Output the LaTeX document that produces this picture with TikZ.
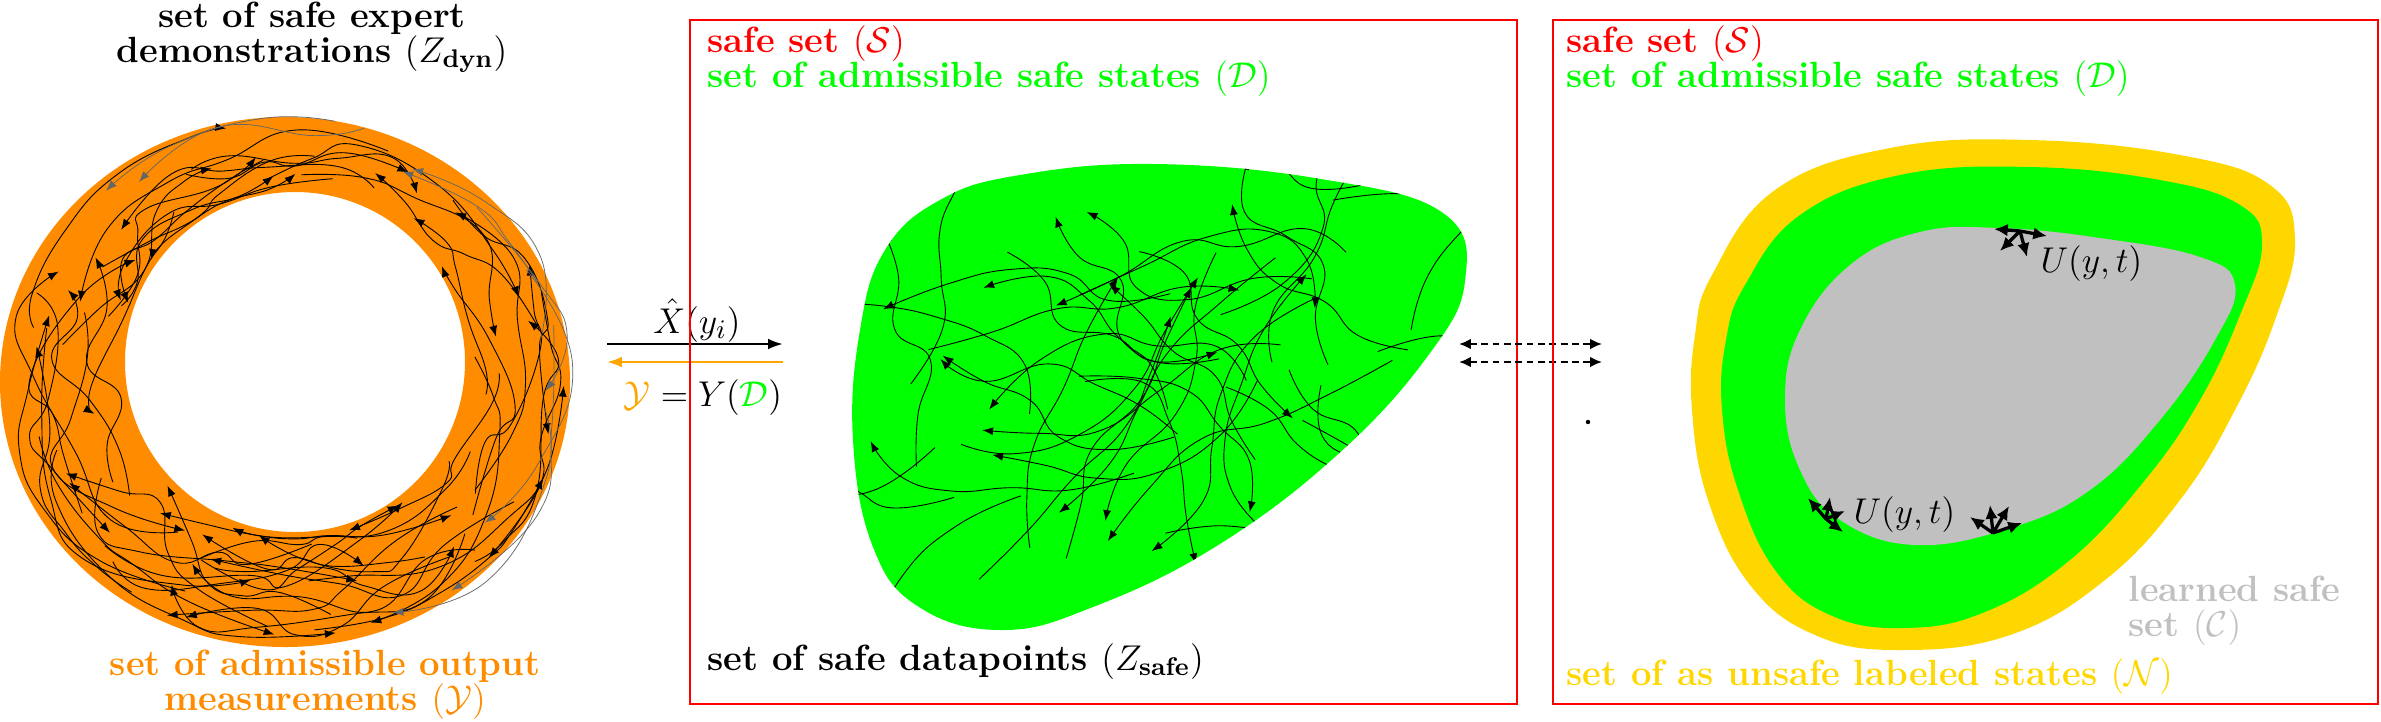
\documentclass[tikz,border=0pt]{standalone}
\usepackage{amsmath}
\usetikzlibrary{arrows.meta}
\definecolor{ringor}{RGB}{255,140,0}
\definecolor{arror}{RGB}{255,165,0}
\definecolor{sgreen}{RGB}{0,255,0}
\definecolor{sred}{RGB}{255,0,0}
\definecolor{sgold}{RGB}{255,215,0}
\definecolor{sgray}{RGB}{192,192,192}
\newcommand{\setrp}[4]{%
  \pgfmathsetmacro#1{(1-(#4))*(295+170*cos(#3))+(#4)*(285+285*cos(#3))}%
  \pgfmathsetmacro#2{(1-(#4))*(362+170*sin(#3))+(#4)*(382+265*sin(#3))}}
\newcommand{\setbp}[4]{%
  \pgfmathsetmacro#1{1160+360*(#3)*0.819+230*(#4)*0.574}%
  \pgfmathsetmacro#2{380-360*(#3)*0.574+230*(#4)*0.819}}
\begin{document}
\begin{tikzpicture}[x=0.335pt,y=-0.335pt,
  lbl/.style={inner sep=0pt, font=\fontsize{12.2}{14.6}\selectfont\bfseries},
  box/.style={draw=sred, line width=0.8pt},
  traj/.style={line width=0.3pt, -{Latex[length=3.6pt,width=2.7pt]}},
  gtraj/.style={line width=0.25pt, draw=black!60, -{Latex[length=3.6pt,width=2.7pt]}},
  bigarr/.style={line width=0.8pt, -{Latex[length=5pt,width=3.6pt]}},
  dsh/.style={line width=0.7pt, dash pattern=on 2.3pt off 1.5pt, {Latex[length=4pt,width=3.6pt]}-{Latex[length=4pt,width=3.6pt]}},
  starr/.style={line width=1.1pt, -{Latex[length=4.6pt,width=4.2pt]}}]
\useasboundingbox (0,0) rectangle (2381,721);

% ---------- ring ----------
\fill[ringor, even odd rule] (285,382) ellipse [x radius=285, y radius=265]
  (295,362) ellipse [x radius=170, y radius=170];
\pgfmathsetseed{31}
\foreach \k in {1,...,56}{
  \pgfmathsetmacro{\aA}{rnd*360}
  \pgfmathsetmacro{\sg}{ifthenelse(rnd<0.5,1,-1)}
  \pgfmathsetmacro{\aB}{\aA+(\sg)*(7+rnd*14)}
  \pgfmathsetmacro{\aC}{\aB+(\sg)*(7+rnd*14)}
  \pgfmathsetmacro{\aD}{\aC+(\sg)*(7+rnd*14)}
  \pgfmathsetmacro{\aE}{\aD+(\sg)*(7+rnd*14)}
  \pgfmathsetmacro{\aF}{\aE+(\sg)*(7+rnd*14)}
  \pgfmathsetmacro{\tA}{0.08+0.84*rnd}
  \pgfmathsetmacro{\tB}{min(0.94,max(0.06,\tA+0.6*(rnd-0.5)))}
  \pgfmathsetmacro{\tC}{min(0.94,max(0.06,\tB+0.6*(rnd-0.5)))}
  \pgfmathsetmacro{\tD}{min(0.94,max(0.06,\tC+0.6*(rnd-0.5)))}
  \pgfmathsetmacro{\tE}{min(0.94,max(0.06,\tD+0.6*(rnd-0.5)))}
  \pgfmathsetmacro{\tF}{min(0.94,max(0.06,\tE+0.6*(rnd-0.5)))}
  \setrp\xA\yA\aA\tA \setrp\xB\yB\aB\tB \setrp\xC\yC\aC\tC
  \setrp\xD\yD\aD\tD \setrp\xE\yE\aE\tE \setrp\xF\yF\aF\tF
  \draw[traj] plot[smooth,tension=0.8] coordinates {(\xA,\yA) (\xB,\yB) (\xC,\yC) (\xD,\yD) (\xE,\yE) (\xF,\yF)};
}
\pgfmathsetseed{5}
\foreach \k in {1,...,8}{
  \pgfmathsetmacro{\aA}{-85+rnd*130}
  \pgfmathsetmacro{\sg}{ifthenelse(rnd<0.5,1,-1)}
  \pgfmathsetmacro{\aB}{\aA+(\sg)*(10+rnd*15)}
  \pgfmathsetmacro{\aC}{\aB+(\sg)*(10+rnd*15)}
  \pgfmathsetmacro{\aD}{\aC+(\sg)*(10+rnd*15)}
  \pgfmathsetmacro{\tA}{0.6+0.4*rnd}
  \pgfmathsetmacro{\tB}{0.75+0.35*rnd}
  \pgfmathsetmacro{\tC}{0.8+0.32*rnd}
  \pgfmathsetmacro{\tD}{0.6+0.4*rnd}
  \setrp\xA\yA\aA\tA \setrp\xB\yB\aB\tB \setrp\xC\yC\aC\tC \setrp\xD\yD\aD\tD
  \draw[gtraj] plot[smooth,tension=0.8] coordinates {(\xA,\yA) (\xB,\yB) (\xC,\yC) (\xD,\yD)};
}
\node[lbl, anchor=base] (t1a) at (312,27) {set of safe expert};
\node[lbl, anchor=base] (t1b) at (312,62) {demonstrations $(Z_{\text{dyn}})$};
\node[lbl, anchor=base, text=ringor] (t2a) at (325,675) {set of admissible output};
\node[lbl, anchor=base, text=ringor] (t2b) at (325,710) {measurements $(\mathcal{Y})$};

% ---------- arrows between ring and box ----------
\coordinate (ra) at (607,344); \coordinate (rb) at (783,344);
\coordinate (oa) at (783,362); \coordinate (ob) at (607,362);
\draw[bigarr] (ra) -- (rb);
\draw[bigarr, draw=arror] (oa) -- (ob);
\node[lbl, anchor=base] (xl) at (697,333) {$\hat{X}(y_i)$};
\node[lbl, anchor=base] (yl) at (703,406) {${\color{arror}\mathcal{Y}} = Y({\color{sgreen}\mathcal{D}})$};

% ---------- middle box ----------
\fill[sgreen] plot[smooth cycle,tension=0.7] coordinates {(860,330) (885,250) (940,200) (1020,175) (1154,164) (1321,179) (1443,213) (1465,281) (1427,357) (1336,456) (1215,547) (1093,607) (1002,630) (919,607) (873,547) (853,440)};
\begin{scope}
\clip plot[smooth cycle,tension=0.7] coordinates {(860,330) (885,250) (940,200) (1020,175) (1154,164) (1321,179) (1443,213) (1465,281) (1427,357) (1336,456) (1215,547) (1093,607) (1002,630) (919,607) (873,547) (853,440)};
\pgfmathsetseed{77}
\foreach \k in {1,...,48}{
  \pgfmathsetmacro{\rr}{0.85*sqrt(rnd)}
  \pgfmathsetmacro{\qq}{rnd*360}
  \pgfmathsetmacro{\uA}{\rr*cos(\qq)}
  \pgfmathsetmacro{\vA}{\rr*sin(\qq)}
  \pgfmathsetmacro{\pA}{rnd*360}
  \pgfmathsetmacro{\uB}{\uA+0.2*cos(\pA)}
  \pgfmathsetmacro{\vB}{\vA+0.2*sin(\pA)}
  \pgfmathsetmacro{\pB}{\pA+90*(rnd-0.5)}
  \pgfmathsetmacro{\uC}{\uB+0.2*cos(\pB)}
  \pgfmathsetmacro{\vC}{\vB+0.2*sin(\pB)}
  \pgfmathsetmacro{\pC}{\pB+90*(rnd-0.5)}
  \pgfmathsetmacro{\uD}{\uC+0.2*cos(\pC)}
  \pgfmathsetmacro{\vD}{\vC+0.2*sin(\pC)}
  \pgfmathsetmacro{\pD}{\pC+90*(rnd-0.5)}
  \pgfmathsetmacro{\uE}{\uD+0.2*cos(\pD)}
  \pgfmathsetmacro{\vE}{\vD+0.2*sin(\pD)}
  \pgfmathsetmacro{\pE}{\pD+90*(rnd-0.5)}
  \pgfmathsetmacro{\uF}{\uE+0.2*cos(\pE)}
  \pgfmathsetmacro{\vF}{\vE+0.2*sin(\pE)}
  \setbp\xA\yA\uA\vA \setbp\xB\yB\uB\vB \setbp\xC\yC\uC\vC
  \setbp\xD\yD\uD\vD \setbp\xE\yE\uE\vE \setbp\xF\yF\uF\vF
  \draw[traj] plot[smooth,tension=0.8] coordinates {(\xA,\yA) (\xB,\yB) (\xC,\yC) (\xD,\yD) (\xE,\yE) (\xF,\yF)};
}
\end{scope}
\draw[box] (690,20) rectangle (1517,704);
\node[lbl, anchor=base west, text=sred] (s1) at (707,52) {safe set $(\mathcal{S})$};
\node[lbl, anchor=base west, text=sgreen] (d1) at (707,87) {set of admissible safe states $(\mathcal{D})$};
\node[lbl, anchor=base west] (z1) at (707,670) {set of safe datapoints $(Z_{\text{safe}})$};

% ---------- dashed arrows ----------
\coordinate (da1) at (1459,344); \coordinate (db1) at (1602,344);
\coordinate (da2) at (1459,362); \coordinate (db2) at (1602,362);
\draw[dsh] (da1) -- (db1);
\draw[dsh] (da2) -- (db2);
\fill (1588,422) circle [radius=2.2];

% ---------- right box ----------
\fill[sgold] plot[smooth cycle,tension=0.7] coordinates {(1712,275) (1775,190) (1890,148) (2030,140) (2180,155) (2270,185) (2295,240) (2275,320) (2235,410) (2180,500) (2105,580) (2010,635) (1900,650) (1815,635) (1750,585) (1708,500) (1692,410) (1695,335)};
\fill[sgreen] plot[smooth cycle,tension=0.7] coordinates {(1745,285) (1800,215) (1900,175) (2030,167) (2160,180) (2240,205) (2262,245) (2240,315) (2200,400) (2145,480) (2070,560) (1985,612) (1904,628) (1830,615) (1775,570) (1738,490) (1722,410) (1726,340)};
\fill[sgray] plot[smooth cycle,tension=0.7] coordinates {(1800,330) (1850,265) (1920,232) (2000,228) (2100,238) (2200,257) (2235,285) (2215,340) (2160,420) (2090,490) (2010,528) (1915,545) (1840,520) (1800,470) (1785,400)};
\draw[box] (1553,20) rectangle (2378,704);

\coordinate (u1) at (2020,231);
\coordinate (u1a) at (1994,229); \coordinate (u1b) at (2047,236);
\coordinate (u1c) at (2000,251); \coordinate (u1d) at (2027,257);
\foreach \t in {u1a,u1b,u1c,u1d} \draw[starr] (u1) -- (\t);
\coordinate (u2) at (1826,519);
\coordinate (u2a) at (1808,498); \coordinate (u2b) at (1830,497);
\coordinate (u2c) at (1845,511); \coordinate (u2d) at (1843,532);
\foreach \t in {u2a,u2b,u2c,u2d} \draw[starr] (u2) -- (\t);
\coordinate (u3) at (1993,533);
\coordinate (u3a) at (1970,517); \coordinate (u3b) at (1990,505);
\coordinate (u3c) at (2009,506); \coordinate (u3d) at (2022,523);
\foreach \t in {u3a,u3b,u3c,u3d} \draw[starr] (u3) -- (\t);
\node[lbl, anchor=base west] (ul1) at (2040,272) {$U(y,t)$};
\node[lbl, anchor=base west] (ul2) at (1853,523) {$U(y,t)$};

\node[lbl, anchor=base west, text=sred] (s2) at (1566,52) {safe set $(\mathcal{S})$};
\node[lbl, anchor=base west, text=sgreen] (d2) at (1566,87) {set of admissible safe states $(\mathcal{D})$};
\node[lbl, anchor=base west, text=sgray] (c2a) at (2128,601) {learned safe};
\node[lbl, anchor=base west, text=sgray] (c2b) at (2128,636) {set $(\mathcal{C})$};
\node[lbl, anchor=base west, text=sgold] (n2) at (1566,685) {set of as unsafe labeled states $(\mathcal{N})$};
\end{tikzpicture}
\end{document}
